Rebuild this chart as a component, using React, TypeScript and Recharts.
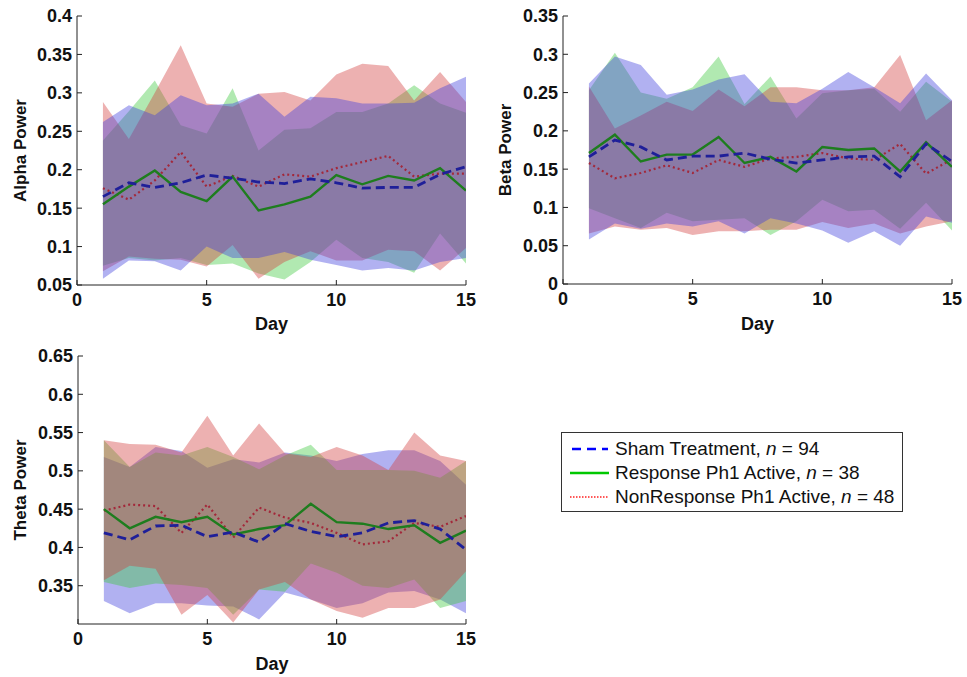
import React from "react";
import { ComposedChart, Area, Line, XAxis, YAxis } from "recharts";

// day index shared by all three panels
const DAYS = [1, 2, 3, 4, 5, 6, 7, 8, 9, 10, 11, 12, 13, 14, 15];
const DAY_TICKS = [0, 5, 10, 15];

// Alpha power (mean and band edges per group)
const ALPHA_SHAM_MEAN = [0.165, 0.183, 0.177, 0.183, 0.193, 0.189, 0.184, 0.182, 0.188, 0.183, 0.176, 0.177, 0.177, 0.194, 0.204];
const ALPHA_RESP_MEAN = [0.155, 0.178, 0.199, 0.171, 0.159, 0.191, 0.147, 0.155, 0.165, 0.193, 0.181, 0.192, 0.186, 0.202, 0.173];
const ALPHA_NON_MEAN = [0.176, 0.161, 0.186, 0.223, 0.178, 0.192, 0.178, 0.194, 0.191, 0.202, 0.210, 0.218, 0.191, 0.195, 0.195];
const ALPHA_SHAM_HIGH = [0.262, 0.284, 0.271, 0.297, 0.284, 0.286, 0.299, 0.269, 0.295, 0.293, 0.286, 0.286, 0.287, 0.306, 0.321];
const ALPHA_RESP_HIGH = [0.238, 0.276, 0.316, 0.258, 0.247, 0.306, 0.225, 0.252, 0.254, 0.275, 0.275, 0.286, 0.310, 0.286, 0.274];
const ALPHA_NON_HIGH = [0.288, 0.240, 0.300, 0.362, 0.286, 0.282, 0.299, 0.301, 0.290, 0.324, 0.338, 0.335, 0.290, 0.327, 0.288];
const ALPHA_SHAM_LOW = [0.058, 0.082, 0.081, 0.069, 0.100, 0.085, 0.085, 0.093, 0.083, 0.076, 0.069, 0.072, 0.069, 0.080, 0.085];
const ALPHA_RESP_LOW = [0.075, 0.085, 0.082, 0.085, 0.076, 0.078, 0.065, 0.057, 0.080, 0.109, 0.085, 0.080, 0.066, 0.117, 0.078];
const ALPHA_NON_LOW = [0.068, 0.087, 0.084, 0.083, 0.074, 0.102, 0.058, 0.080, 0.094, 0.082, 0.082, 0.096, 0.094, 0.069, 0.098];

// Beta power
const BETA_SHAM_MEAN = [0.166, 0.188, 0.179, 0.162, 0.167, 0.167, 0.171, 0.163, 0.158, 0.162, 0.166, 0.167, 0.140, 0.183, 0.160];
const BETA_RESP_MEAN = [0.171, 0.195, 0.160, 0.169, 0.169, 0.192, 0.158, 0.166, 0.147, 0.179, 0.175, 0.177, 0.147, 0.185, 0.153];
const BETA_NON_MEAN = [0.158, 0.138, 0.145, 0.155, 0.145, 0.162, 0.153, 0.164, 0.166, 0.171, 0.164, 0.162, 0.183, 0.144, 0.163];
const BETA_SHAM_HIGH = [0.262, 0.297, 0.286, 0.247, 0.254, 0.267, 0.274, 0.238, 0.236, 0.255, 0.277, 0.257, 0.236, 0.275, 0.240];
const BETA_RESP_HIGH = [0.253, 0.302, 0.250, 0.242, 0.257, 0.297, 0.235, 0.271, 0.216, 0.249, 0.253, 0.255, 0.225, 0.264, 0.238];
const BETA_NON_HIGH = [0.258, 0.203, 0.220, 0.238, 0.226, 0.254, 0.232, 0.257, 0.257, 0.253, 0.253, 0.257, 0.299, 0.214, 0.240];
const BETA_SHAM_LOW = [0.058, 0.079, 0.072, 0.079, 0.075, 0.082, 0.066, 0.086, 0.079, 0.070, 0.054, 0.069, 0.050, 0.088, 0.080];
const BETA_RESP_LOW = [0.099, 0.086, 0.073, 0.093, 0.082, 0.084, 0.086, 0.064, 0.082, 0.110, 0.095, 0.097, 0.072, 0.106, 0.070];
const BETA_NON_LOW = [0.066, 0.075, 0.071, 0.073, 0.064, 0.069, 0.069, 0.071, 0.071, 0.081, 0.073, 0.079, 0.066, 0.075, 0.082];

// Theta power
const THETA_SHAM_MEAN = [0.419, 0.410, 0.428, 0.429, 0.414, 0.420, 0.407, 0.431, 0.421, 0.414, 0.419, 0.432, 0.435, 0.424, 0.397];
const THETA_RESP_MEAN = [0.450, 0.425, 0.440, 0.433, 0.440, 0.417, 0.424, 0.429, 0.457, 0.433, 0.431, 0.424, 0.429, 0.406, 0.422];
const THETA_NON_MEAN = [0.448, 0.456, 0.454, 0.419, 0.456, 0.413, 0.452, 0.439, 0.432, 0.419, 0.404, 0.408, 0.432, 0.427, 0.441];
const THETA_SHAM_HIGH = [0.518, 0.505, 0.531, 0.526, 0.504, 0.515, 0.511, 0.524, 0.520, 0.513, 0.522, 0.527, 0.527, 0.513, 0.482];
const THETA_RESP_HIGH = [0.540, 0.505, 0.524, 0.520, 0.531, 0.518, 0.502, 0.520, 0.534, 0.501, 0.501, 0.501, 0.500, 0.491, 0.513];
const THETA_NON_HIGH = [0.540, 0.535, 0.534, 0.524, 0.572, 0.520, 0.562, 0.523, 0.518, 0.531, 0.520, 0.501, 0.550, 0.520, 0.513];
const THETA_SHAM_LOW = [0.330, 0.314, 0.327, 0.327, 0.324, 0.323, 0.306, 0.341, 0.332, 0.321, 0.327, 0.341, 0.343, 0.332, 0.314];
const THETA_RESP_LOW = [0.355, 0.347, 0.353, 0.351, 0.347, 0.312, 0.345, 0.342, 0.379, 0.367, 0.350, 0.347, 0.358, 0.321, 0.330];
const THETA_NON_LOW = [0.357, 0.376, 0.372, 0.312, 0.338, 0.302, 0.345, 0.355, 0.332, 0.317, 0.308, 0.321, 0.321, 0.332, 0.369];

const ALPHA_TICKS = [0.05, 0.1, 0.15, 0.2, 0.25, 0.3, 0.35, 0.4];
const BETA_TICKS = [0, 0.05, 0.1, 0.15, 0.2, 0.25, 0.3, 0.35];
const THETA_TICKS = [0.35, 0.4, 0.45, 0.5, 0.55, 0.6, 0.65];

const GROUPS = [
  { key: "sham", name: "Sham Treatment", n: 94 },
  { key: "resp", name: "Response Ph1 Active", n: 38 },
  { key: "non", name: "NonResponse Ph1 Active", n: 48 },
];

const FONT = '"Liberation Sans", Arial, Helvetica, sans-serif';
const AXIS = "#222";

const BAND_FILL: Record<string, string> = {
  sham: "#3c3cdc",
  resp: "#3cc83c",
  non: "#d23c3c",
};

function buildRows(
  shamMean: number[], respMean: number[], nonMean: number[],
  shamLow: number[], shamHigh: number[],
  respLow: number[], respHigh: number[],
  nonLow: number[], nonHigh: number[],
) {
  return DAYS.map((day, i) => ({
    day,
    shamMean: shamMean[i],
    respMean: respMean[i],
    nonMean: nonMean[i],
    shamBand: [shamLow[i], shamHigh[i]],
    respBand: [respLow[i], respHigh[i]],
    nonBand: [nonLow[i], nonHigh[i]],
  }));
}

const alphaRows = buildRows(ALPHA_SHAM_MEAN, ALPHA_RESP_MEAN, ALPHA_NON_MEAN, ALPHA_SHAM_LOW, ALPHA_SHAM_HIGH, ALPHA_RESP_LOW, ALPHA_RESP_HIGH, ALPHA_NON_LOW, ALPHA_NON_HIGH);
const betaRows = buildRows(BETA_SHAM_MEAN, BETA_RESP_MEAN, BETA_NON_MEAN, BETA_SHAM_LOW, BETA_SHAM_HIGH, BETA_RESP_LOW, BETA_RESP_HIGH, BETA_NON_LOW, BETA_NON_HIGH);
const thetaRows = buildRows(THETA_SHAM_MEAN, THETA_RESP_MEAN, THETA_NON_MEAN, THETA_SHAM_LOW, THETA_SHAM_HIGH, THETA_RESP_LOW, THETA_RESP_HIGH, THETA_NON_LOW, THETA_NON_HIGH);

const X_MARGIN = 8;
const Y_MARGIN = 5;

// matlab style: ticks point into the plot
function XTick(props: any) {
  const { x, y, payload } = props;
  const axisY = y - X_MARGIN;
  return (
    <g>
      <line x1={x} x2={x} y1={axisY} y2={axisY - 5} stroke={AXIS} />
      <text x={x} y={y} dy="0.71em" textAnchor="middle" fontSize={18} fontWeight="bold" fill="#111" fontFamily={FONT}>
        {payload.value}
      </text>
    </g>
  );
}

function YTick(props: any) {
  const { x, y, payload } = props;
  const axisX = x + Y_MARGIN;
  return (
    <g>
      <line x1={axisX} x2={axisX + 5} y1={y} y2={y} stroke={AXIS} />
      <text x={x} y={y} dy="0.355em" textAnchor="end" fontSize={18} fontWeight="bold" fill="#111" fontFamily={FONT}>
        {payload.value}
      </text>
    </g>
  );
}

function Panel({ rows, yLabel, labelX, domain, ticks, left, top, width, height, margin, bandOrder, dayOffset }: any) {
  const plotH = height - margin.top - margin.bottom - 50;
  const renderYLabel = (p: any) => {
    const vb = p && p.viewBox;
    const cy = vb && typeof vb.y === "number" ? vb.y + vb.height / 2 : margin.top + plotH / 2;
    return (
      <text
        x={labelX}
        y={cy}
        transform={`rotate(-90 ${labelX} ${cy})`}
        textAnchor="middle"
        dominantBaseline="central"
        fontSize={17}
        fontWeight="bold"
        fill="#111"
        fontFamily={FONT}
      >
        {yLabel}
      </text>
    );
  };

  return (
    <div style={{ position: "absolute", left, top }}>
      <ComposedChart width={width} height={height} data={rows} margin={margin}>
        <XAxis
          dataKey="day"
          type="number"
          domain={[0, 15]}
          ticks={DAY_TICKS}
          allowDataOverflow
          height={50}
          tickSize={0}
          tickMargin={X_MARGIN}
          tickLine={false}
          axisLine={{ stroke: AXIS }}
          tick={(p: any) => <XTick {...p} />}
          label={{ value: "Day", position: "insideBottom", offset: dayOffset, fontSize: 18, fontWeight: "bold", fill: "#111", fontFamily: FONT }}
        />
        <YAxis
          type="number"
          domain={domain}
          ticks={ticks}
          allowDataOverflow
          width={60}
          tickSize={0}
          tickMargin={Y_MARGIN}
          tickLine={false}
          axisLine={{ stroke: AXIS }}
          tick={(p: any) => <YTick {...p} />}
          label={{ content: renderYLabel }}
        />
        {bandOrder.map((k: string) => (
          <Area
            key={k}
            dataKey={`${k}Band`}
            type="linear"
            stroke="none"
            fill={BAND_FILL[k]}
            fillOpacity={0.4}
            isAnimationActive={false}
            dot={false}
            activeDot={false}
          />
        ))}
        <Line dataKey="nonMean" type="linear" stroke="#a3283a" strokeWidth={2.2} strokeDasharray="2 3" dot={false} isAnimationActive={false} />
        <Line dataKey="respMean" type="linear" stroke="#1e7d1e" strokeWidth={2.4} dot={false} isAnimationActive={false} />
        <Line dataKey="shamMean" type="linear" stroke="#1f1f99" strokeWidth={2.8} strokeDasharray="9 5" dot={false} isAnimationActive={false} />
      </ComposedChart>
    </div>
  );
}

function LegendSample({ k }: { k: string }) {
  if (k === "sham") {
    return (
      <svg width={40} height={10}>
        <line x1={2} x2={38} y1={5} y2={5} stroke="#0000ff" strokeWidth={2.5} strokeDasharray="9 6" />
      </svg>
    );
  }
  if (k === "resp") {
    return (
      <svg width={40} height={10}>
        <line x1={0} x2={39} y1={5} y2={5} stroke="#00c800" strokeWidth={2.5} />
      </svg>
    );
  }
  return (
    <svg width={40} height={10}>
      <line x1={0} x2={39} y1={5} y2={5} stroke="#ff2020" strokeWidth={1.5} strokeDasharray="1.5 1.5" />
    </svg>
  );
}

function GroupLegend() {
  return (
    <div
      style={{
        position: "absolute",
        left: 561,
        top: 432,
        width: 340,
        height: 78,
        border: "1px solid #333",
        background: "#fff",
        fontFamily: FONT,
        fontSize: 19,
        color: "#111",
      }}
    >
      {GROUPS.map((g, i) => (
        <div key={g.key} style={{ position: "absolute", left: 8, top: 4 + i * 24, height: 24, display: "flex", alignItems: "center", whiteSpace: "nowrap" }}>
          <LegendSample k={g.key} />
          <span style={{ marginLeft: 5 }}>
            {g.name}, <i>n</i> = {g.n}
          </span>
        </div>
      ))}
    </div>
  );
}

export default function App() {
  return (
    <div style={{ position: "fixed", left: 0, top: 0, width: 967, height: 677, background: "#fff", fontFamily: FONT }}>
      <Panel
        rows={alphaRows}
        yLabel="Alpha Power"
        labelX={20}
        domain={[0.05, 0.4]}
        ticks={ALPHA_TICKS}
        left={0}
        top={0}
        width={480}
        height={340}
        margin={{ top: 16, right: 14, bottom: 5, left: 17 }}
        bandOrder={["resp", "non", "sham"]}
        dayOffset={5}
      />
      <Panel
        rows={betaRows}
        yLabel="Beta Power"
        labelX={15}
        domain={[0, 0.35]}
        ticks={BETA_TICKS}
        left={490}
        top={0}
        width={477}
        height={340}
        margin={{ top: 16, right: 15, bottom: 6, left: 13 }}
        bandOrder={["resp", "non", "sham"]}
        dayOffset={4}
      />
      <Panel
        rows={thetaRows}
        yLabel="Theta Power"
        labelX={20}
        domain={[0.3, 0.65]}
        ticks={THETA_TICKS}
        left={0}
        top={340}
        width={480}
        height={337}
        margin={{ top: 16, right: 14, bottom: 3, left: 18 }}
        bandOrder={["sham", "resp", "non"]}
        dayOffset={4}
      />
      <GroupLegend />
    </div>
  );
}
